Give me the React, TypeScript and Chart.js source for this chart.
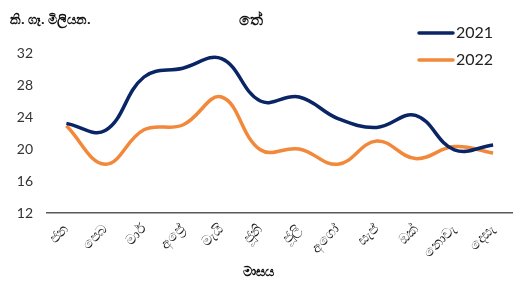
import React, { useEffect, useRef } from "react";
import { Chart, registerables } from "chart.js";

Chart.register(...registerables);

const months = ["ජන", "පෙබ", "මාර්", "අප්‍රේ", "මැයි", "ජූනි", "ජූලි", "අගෝ", "සැප්", "ඔක්", "නොවැ", "දෙසැ"];
const series2021 = [23.2, 22.3, 29.0, 30.1, 31.3, 26.0, 26.5, 23.8, 22.7, 24.2, 19.9, 20.5];
const series2022 = [22.9, 18.1, 22.4, 23.0, 26.5, 19.9, 20.0, 18.1, 21.0, 18.8, 20.3, 19.5];
const seriesNames = ["2021", "2022"];
const colors = ["#0a2566", "#f2883a"];
const chartTitle = "තේ";
const yUnit = "කි. ගෑ. මිලියන.";
const xTitle = "මාසය";

const overlay = {
  id: "overlay",
  afterDraw(chart: any) {
    const ctx = chart.ctx;
    ctx.save();
    ctx.fillStyle = "#111";
    ctx.textBaseline = "middle";
    ctx.font = "bold 13px 'Noto Sans', sans-serif";
    ctx.textAlign = "left";
    ctx.fillText(yUnit, 10, 20);
    ctx.font = "bold 16px 'Noto Sans', sans-serif";
    ctx.textAlign = "center";
    ctx.fillText(chartTitle, 251, 20);
    ctx.font = "bold 13px 'Noto Sans', sans-serif";
    ctx.fillText(xTitle, 258, 272);
    chart.data.datasets.forEach((ds: any, i: number) => {
      const y = 33 + i * 27;
      ctx.strokeStyle = ds.borderColor;
      ctx.lineWidth = 3.5;
      ctx.lineCap = "round";
      ctx.beginPath();
      ctx.moveTo(419, y);
      ctx.lineTo(453, y);
      ctx.stroke();
      ctx.fillStyle = "#222";
      ctx.font = "16px Lato, sans-serif";
      ctx.textAlign = "left";
      ctx.fillText(ds.label, 456, y);
    });
    ctx.restore();
  },
};

export default function App() {
  const ref = useRef<HTMLCanvasElement>(null);
  useEffect(() => {
    const chart = new Chart(ref.current!, {
      type: "line",
      data: {
        labels: months,
        datasets: [
          { label: seriesNames[0], data: series2021, borderColor: colors[0], backgroundColor: colors[0], borderWidth: 3.5, pointRadius: 0, tension: 0.4 },
          { label: seriesNames[1], data: series2022, borderColor: colors[1], backgroundColor: colors[1], borderWidth: 3.5, pointRadius: 0, tension: 0.4 },
        ],
      },
      options: {
        animation: false,
        responsive: false,
        maintainAspectRatio: false,
        layout: { padding: { top: 53, right: 0, left: 0, bottom: 0 } },
        plugins: { legend: { display: false }, title: { display: false }, tooltip: { enabled: false } },
        scales: {
          x: {
            offset: true,
            grid: { display: false, drawTicks: false },
            border: { display: true, color: "#595959", width: 1.5 },
            ticks: { minRotation: 45, maxRotation: 45, padding: 8, color: "#222", font: { size: 14, family: "'Noto Sans', sans-serif" } },
            afterFit: (s: any) => { s.height = 69; },
          },
          y: {
            min: 12,
            max: 32,
            grid: { display: false, drawTicks: false },
            border: { display: false },
            ticks: { stepSize: 4, padding: 14, color: "#333", font: { size: 14, family: "Lato, sans-serif" } },
            afterFit: (s: any) => { s.width = 47; },
          },
        },
      },
      plugins: [overlay],
    });
    return () => chart.destroy();
  }, []);
  return (
    <div style={{ position: "absolute", left: 0, top: 0, width: 513, height: 282, background: "#fff" }}>
      <canvas ref={ref} width={513} height={282} />
    </div>
  );
}
